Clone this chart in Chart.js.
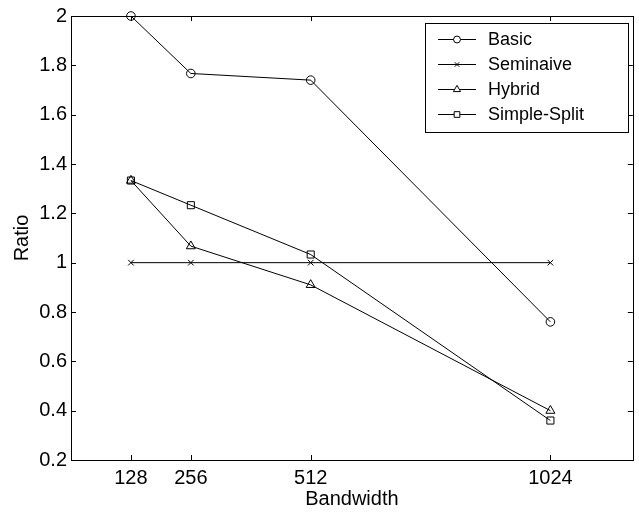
<!DOCTYPE html>
<html lang="en">
<head>
    <meta charset="UTF-8">
    <title>Ratio vs Bandwidth</title>
    <style>
        body {
            margin: 0;
            padding: 0;
            background-color: #ffffff;
        }
        #box {
            width: 639px;
            height: 514px;
        }
    </style>
</head>
<body>
    <div id="box"><canvas id="ratioChart"></canvas></div>
    <script src="https://cdn.jsdelivr.net/npm/chart.js@4"></script>
    <script>
        // data
        const bandwidth = [128, 256, 512, 1024];
        const basic = [2.0, 1.767, 1.74, 0.76];
        const seminaive = [1, 1, 1, 1];
        const hybrid = [1.333, 1.067, 0.91, 0.40];
        const simpleSplit = [1.333, 1.233, 1.033, 0.36];
        const xTicks = [128, 256, 512, 1024];
        const yTicks = [0.2, 0.4, 0.6, 0.8, 1, 1.2, 1.4, 1.6, 1.8, 2];

        const FAMILY = "'Liberation Sans', Arial, sans-serif";
        const LEGEND_SIZE = 18;
        Chart.defaults.color = "#000";
        Chart.defaults.font.family = FAMILY;
        Chart.defaults.font.size = 20;

        function toPoints(values) {
            return bandwidth.map((b, i) => ({ x: b, y: values[i] }));
        }

        function makeSet(label, values, style, radius) {
            return {
                label: label,
                data: toPoints(values),
                borderColor: "#000",
                borderWidth: 1,
                pointStyle: style,
                pointRadius: radius,
                pointBorderColor: "#000",
                pointBorderWidth: 1,
                pointBackgroundColor: "rgba(0,0,0,0)",
                clip: false,
                tension: 0
            };
        }

        // draws the frame, inward tick marks and the legend box
        const framePlugin = {
            id: "frame",
            afterDraw(chart) {
                const ctx = chart.ctx;
                const a = chart.chartArea;
                const xs = chart.scales.x;
                const ys = chart.scales.y;
                const len = 5;
                ctx.save();
                ctx.strokeStyle = "#000";
                ctx.lineWidth = 1;
                ctx.beginPath();
                yTicks.forEach(v => {
                    const py = Math.round(ys.getPixelForValue(v)) + 0.5;
                    ctx.moveTo(a.left, py); ctx.lineTo(a.left + len, py);
                    ctx.moveTo(a.right, py); ctx.lineTo(a.right - len, py);
                });
                xTicks.forEach(v => {
                    const px = Math.round(xs.getPixelForValue(v)) + 0.5;
                    ctx.moveTo(px, a.bottom); ctx.lineTo(px, a.bottom - len);
                    ctx.moveTo(px, a.top); ctx.lineTo(px, a.top + len);
                });
                ctx.stroke();
                ctx.strokeRect(Math.round(a.left) + 0.5, Math.round(a.top) + 0.5,
                    Math.round(a.right - a.left), Math.round(a.bottom - a.top));

                // legend
                const lx = 425, ly = 23, lw = 203, lh = 109;
                ctx.fillStyle = "#fff";
                ctx.fillRect(lx, ly, lw, lh);
                ctx.strokeRect(lx + 0.5, ly + 0.5, lw, lh);
                ctx.font = LEGEND_SIZE + "px " + FAMILY;
                ctx.textBaseline = "middle";
                chart.data.datasets.forEach((ds, i) => {
                    const cy = Math.round(ly + 15.5 + i * 25.3) + 0.5;
                    ctx.beginPath();
                    ctx.moveTo(438, cy);
                    ctx.lineTo(476, cy);
                    ctx.stroke();
                    ctx.fillStyle = "#fff";
                    Chart.helpers.drawPoint(ctx, {
                        pointStyle: ds.pointStyle,
                        radius: ds.pointRadius * 0.8,
                        rotation: 0,
                        borderWidth: 1
                    }, 457, cy);
                    ctx.fillStyle = "#000";
                    ctx.fillText(ds.label, 488, cy + 1);
                });
                ctx.restore();
            }
        };

        const ctx = document.getElementById("ratioChart").getContext("2d");
        new Chart(ctx, {
            type: "line",
            data: {
                datasets: [
                    makeSet("Basic", basic, "circle", 4.3),
                    makeSet("Seminaive", seminaive, "crossRot", 4),
                    makeSet("Hybrid", hybrid, "triangle", 5.2),
                    makeSet("Simple-Split", simpleSplit, "rect", 5)
                ]
            },
            options: {
                responsive: true,
                maintainAspectRatio: false,
                animation: false,
                layout: { padding: { top: 16, right: 6, left: 0, bottom: 0 } },
                plugins: {
                    legend: { display: false },
                    tooltip: { enabled: false }
                },
                scales: {
                    x: {
                        type: "linear",
                        min: 0,
                        max: 1200,
                        afterBuildTicks: s => { s.ticks = xTicks.map(v => ({ value: v })); },
                        afterFit: s => { s.height = 54; },
                        grid: { display: false, drawTicks: false },
                        border: { display: false },
                        ticks: { padding: 6, maxRotation: 0, autoSkip: false, callback: v => String(v) },
                        title: { display: true, text: "Bandwidth", padding: { top: 0, bottom: 3 } }
                    },
                    y: {
                        min: 0.2,
                        max: 2,
                        afterBuildTicks: s => { s.ticks = yTicks.map(v => ({ value: v })); },
                        afterFit: s => { s.width = 71; },
                        grid: { display: false, drawTicks: false },
                        border: { display: false },
                        ticks: { padding: 4, callback: v => String(+v.toFixed(1)) },
                        title: { display: true, text: "Ratio", padding: { top: 10, bottom: 0 } }
                    }
                }
            },
            plugins: [framePlugin]
        });
    </script>
</body>
</html>
